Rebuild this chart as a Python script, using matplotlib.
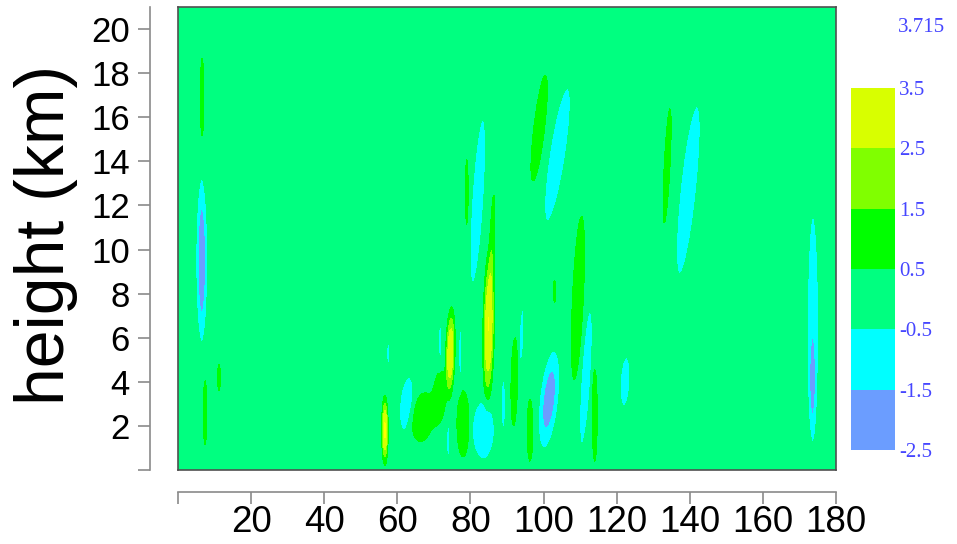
import numpy as np
import matplotlib.pyplot as plt
from matplotlib.colors import ListedColormap, BoundaryNorm

# contour levels / colours of the key
levels = [-2.5, -1.5, -0.5, 0.5, 1.5, 2.5, 3.5]
level_colors = ['#6b9dff', '#00ffff', '#00ff80', '#00ff00', '#80ff00', '#d8ff00']
zmax_label = '3.715'

# cells: centre x, centre height (km), half width,
# half height (edge at |0.5|), peak value, lean (x shift per km of height)
cell_x = [6.6, 6.5, 7.4, 11.2, 57.5, 56.6, 62.5, 67.0, 71.5, 74.5, 71.7, 77.2,
          79.0, 82.0, 85.0, 86.0, 78.0, 83.5, 73.9, 89.0, 98.8, 103.8, 109.4,
          103.0, 94.0, 92.0, 101.5, 96.3, 111.6, 114.0, 122.3, 133.8, 139.6,
          173.7, 173.5]
cell_y = [16.9, 9.5, 2.6, 4.2, 5.3, 1.8, 3.0, 2.4, 3.3, 5.3, 5.8, 5.3,
          12.6, 12.2, 6.5, 10.5, 2.1, 1.8, 1.3, 3.0, 15.5, 14.3, 7.8,
          8.1, 6.1, 4.0, 3.2, 1.8, 4.2, 2.5, 4.0, 13.8, 12.7,
          6.5, 3.7]
cell_hw = [0.5, 1.6, 0.5, 0.4, 0.4, 0.9, 1.8, 3.0, 1.8, 1.3, 0.4, 0.4,
           0.4, 1.6, 1.6, 0.6, 1.7, 3.0, 0.4, 0.6, 1.5, 2.2, 1.5,
           0.4, 0.6, 0.9, 2.6, 0.8, 1.3, 0.7, 1.3, 0.8, 2.2,
           1.5, 0.8]
cell_hh = [1.8, 3.7, 1.5, 0.6, 0.5, 1.6, 1.2, 1.1, 1.2, 2.1, 0.9, 1.2,
           1.5, 3.7, 3.6, 2.0, 1.5, 1.3, 0.8, 1.1, 2.4, 3.0, 3.7,
           0.5, 1.2, 2.0, 2.2, 1.4, 3.0, 2.1, 1.1, 2.6, 3.8,
           5.0, 1.5]
cell_amp = [1.0, -2.2, 0.9, 0.7, -0.7, 3.6, -1.0, 1.2, 1.2, 3.3, -0.8, -0.8,
            0.8, -1.3, 3.5, 1.0, 1.2, -1.4, -0.8, -0.8, 1.2, -1.3, 1.1,
            0.7, -0.8, 1.1, -2.0, 1.0, -1.1, 1.0, -0.9, 1.0, -1.3,
            -1.4, -0.9]
cell_lean = [0, 0, 0, 0, 0, 0, 0.5, 0.6, 0.4, 0.15, 0, 0,
             0, 0.37, 0.1, 0.2, 0, 0, 0, 0, 0.7, 0.9, 0.27,
             0, 0.2, 0.1, 0.6, 0, 0.37, 0, 0.3, 0.3, 0.62,
             0, 0]

x = np.linspace(0, 180, 721)
y = np.linspace(0, 21, 253)
X, Y = np.meshgrid(x, y)
Z = np.zeros_like(X)
for cx, cy, hw, hh, a, lean in zip(cell_x, cell_y, cell_hw, cell_hh, cell_amp, cell_lean):
    dx = X - (cx + lean * (Y - cy))
    d2 = (dx / hw) ** 2 + ((Y - cy) / hh) ** 2
    Z += a * np.exp(-np.log(abs(a) / 0.5) * d2 ** 1.5)

cmap = ListedColormap(level_colors)
cmap.set_under(level_colors[0])
cmap.set_over('#ffff00')
norm = BoundaryNorm(levels, cmap.N)

fig = plt.figure(figsize=(9.57, 5.44), dpi=100)
plt.rcParams['font.family'] = ['Liberation Sans', 'DejaVu Sans']

# main panel
ax = fig.add_axes([178 / 957, 1 - 470 / 544, 658 / 957, 463 / 544])
ax.contourf(X, Y, Z, levels=levels, cmap=cmap, norm=norm, extend='both')
ax.set_xlim(0, 180)
ax.set_ylim(0, 21)
ax.set_xticks([])
ax.set_yticks([])
for s in ax.spines.values():
    s.set_color('#505050')
    s.set_linewidth(1.2)

axis_grey = '#8a8a8a'

# detached y axis
ay = fig.add_axes([150 / 957, 1 - 470 / 544, 0.0005, 463 / 544])
ay.set_ylim(0, 21)
ay.set_xticks([])
for side in ['right', 'top', 'bottom']:
    ay.spines[side].set_visible(False)
ay.spines['left'].set_color(axis_grey)
ay.spines['left'].set_linewidth(1.2)
yt = list(range(0, 21, 2))
ay.set_yticks(yt)
ay.set_yticklabels([''] + [str(v) for v in yt[1:]])
ay.tick_params(axis='y', length=8.6, width=1.2, color=axis_grey, pad=6, labelsize=25)
ay.patch.set_visible(False)

# detached x axis
axx = fig.add_axes([178 / 957, 1 - 492 / 544, 658 / 957, 0.0005])
axx.set_xlim(0, 180)
axx.set_yticks([])
for side in ['left', 'right', 'top']:
    axx.spines[side].set_visible(False)
axx.spines['bottom'].set_color(axis_grey)
axx.spines['bottom'].set_linewidth(1.2)
xt = list(range(0, 181, 20))
axx.set_xticks(xt)
axx.set_xticklabels([''] + [str(v) for v in xt[1:]])
axx.tick_params(axis='x', length=8.6, width=1.2, color=axis_grey, pad=1, labelsize=26.5)
axx.patch.set_visible(False)

fig.text(46 / 957, 1 - 235 / 544, 'height (km)', rotation=90, ha='center',
         va='center', fontsize=49)

# colour key
cax = fig.add_axes([851 / 957, 1 - 450 / 544, 44 / 957, 362 / 544])
cax.bar([0] * len(level_colors), np.diff(levels), bottom=levels[:-1], width=1,
        color=level_colors, edgecolor='none')
cax.set_xlim(-0.5, 0.5)
cax.set_ylim(levels[0], levels[-1])
cax.set_xticks([])
for s in cax.spines.values():
    s.set_visible(False)
cax.yaxis.tick_right()
cax.set_yticks(levels)
cax.set_yticklabels([str(v) for v in levels], family='Liberation Serif',
                    color='#4646ff', fontsize=15)
cax.tick_params(axis='y', length=0, pad=3)
fig.text(898 / 957, 1 - 28 / 544, zmax_label, family='Liberation Serif',
         color='#4646ff', fontsize=15, va='center')

fig.savefig('out.png', dpi=100)
